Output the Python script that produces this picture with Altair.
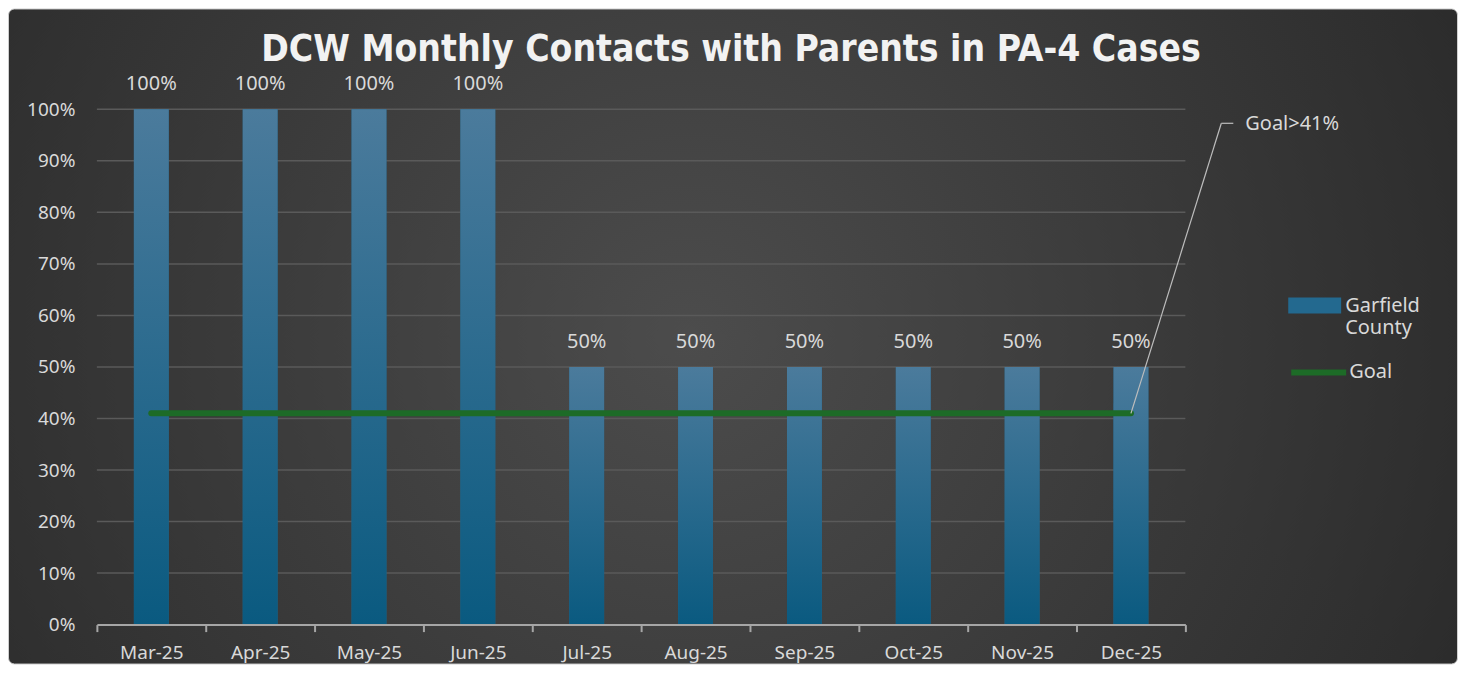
import altair as alt
import pandas as pd

months = ["Mar-25", "Apr-25", "May-25", "Jun-25", "Jul-25",
          "Aug-25", "Sep-25", "Oct-25", "Nov-25", "Dec-25"]
garfield = [1.00, 1.00, 1.00, 1.00, 0.50, 0.50, 0.50, 0.50, 0.50, 0.50]
goal = [0.41, 0.41, 0.41, 0.41, 0.41, 0.41, 0.41, 0.41, 0.41, 0.41]
goal_note = "Goal>41%"
title_text = "DCW Monthly Contacts with Parents in PA-4 Cases"
y_ticks = [0, 0.1, 0.2, 0.3, 0.4, 0.5, 0.6, 0.7, 0.8, 0.9, 1.0]

df = pd.DataFrame({"month": months, "value": garfield, "goal": goal,
                   "series": "Garfield County", "gseries": "Goal"})
note_df = pd.DataFrame({"month": [months[-1]], "goal": [goal[-1]], "label": [goal_note]})
grid_df = pd.DataFrame({"tick": y_ticks[1:]})
title_df = pd.DataFrame({"t": [title_text]})

W, H = 1090, 516
PL, PT, PR, PB = 89, 101, 273, 40
FONT = "Noto Sans"
LBL = "#d9d9d9"

x = alt.X("month:N", sort=months, title=None,
          scale=alt.Scale(paddingInner=0, paddingOuter=0),
          axis=alt.Axis(labelAngle=0, labelFont=FONT, labelFontSize=19, labelColor=LBL,
                        labelPadding=12, domainColor="#a6a6a6", domainWidth=2,
                        tickColor="#a6a6a6", tickWidth=2, tickSize=7, tickBand="extent",
                        grid=False, zindex=1))
y = alt.Y("value:Q", title=None,
          scale=alt.Scale(domain=[0, 1], nice=False),
          axis=alt.Axis(format=".0%", values=y_ticks, labelFont=FONT, labelFontSize=19,
                        labelColor=LBL, labelPadding=22, domain=False, ticks=False,
                        grid=False, zindex=1))

bg = alt.Chart(pd.DataFrame({"a": [0]})).mark_rect(
    cornerRadius=6,
    fill=alt.RadialGradient(gradient="radial", x1=0.47, y1=0.5, r1=0, x2=0.47, y2=0.5, r2=0.75,
                            stops=[alt.GradientStop(offset=0, color="#4c4c4c"),
                                   alt.GradientStop(offset=1, color="#222222")]),
    stroke="#d0d0d0", strokeWidth=1,
).encode(x=alt.value(-PL + 0.5), x2=alt.value(W + PR - 0.5),
         y=alt.value(-PT + 0.5), y2=alt.value(H + PB - 0.5))

grid = alt.Chart(grid_df).mark_rule(color="#5a5a5a", strokeWidth=1.5).encode(
    y=alt.Y("tick:Q", scale=alt.Scale(domain=[0, 1], nice=False)),
    x=alt.value(0), x2=alt.value(W))

bar_gradient = alt.LinearGradient(
    gradient="linear", x1=0, y1=0, x2=0, y2=1,
    stops=[alt.GradientStop(offset=0, color="#4b7b9c"),
           alt.GradientStop(offset=1, color="#0a5a80")])

BW = alt.RelativeBandSize(band=0.32)

bars_legend = alt.Chart(df).mark_bar(width=BW).encode(
    x=x, y=y,
    color=alt.Color("series:N", title=None,
                    scale=alt.Scale(domain=["Garfield County"], range=["#23698f"]),
                    legend=alt.Legend(orient="none", legendX=1193, legendY=170,
                                      symbolType="M-1,-0.3H1V0.3H-1Z", symbolSize=2809,
                                      symbolOpacity=1, symbolStrokeWidth=0,
                                      labelFont=FONT, labelFontSize=20, labelColor=LBL,
                                      labelOffset=4, labelLimit=200,
                                      labelExpr="datum.label == 'Garfield County' ? ['Garfield', 'County'] : datum.label"))
)
bars = alt.Chart(df).mark_bar(fill=bar_gradient, width=BW).encode(x=x, y=y)

labels = alt.Chart(df).mark_text(dy=-25, font=FONT, fontSize=20, color=LBL, baseline="middle").encode(
    x=x, y=y, text=alt.Text("value:Q", format=".0%"))

line = alt.Chart(df).mark_line(strokeWidth=6, strokeCap="round").encode(
    x=x, y=alt.Y("goal:Q"),
    stroke=alt.Stroke("gseries:N", title=None,
                      scale=alt.Scale(domain=["Goal"], range=["#1d6b27"]),
                      legend=alt.Legend(orient="none", legendX=1193, legendY=233,
                                        symbolType="stroke", symbolSize=3025,
                                        symbolStrokeWidth=6, symbolOpacity=1,
                                        labelFont=FONT, labelFontSize=20, labelColor=LBL,
                                        labelOffset=0))
)

leader = alt.Chart(note_df).mark_rule(color="#bdbdbd", strokeWidth=1.2).encode(
    x=alt.X("month:N", sort=months), y=alt.Y("goal:Q"),
    x2=alt.value(1126), y2=alt.value(14))
leader2 = alt.Chart(note_df).mark_rule(color="#bdbdbd", strokeWidth=1.2).encode(
    x=alt.value(1126), x2=alt.value(1138), y=alt.value(14))
note = alt.Chart(note_df).mark_text(align="left", baseline="middle", font=FONT, fontSize=20,
                                    color=LBL).encode(
    x=alt.value(1150), y=alt.value(15), text="label:N")

title = alt.Chart(title_df).mark_text(align="center", baseline="middle",
                                      font="DejaVu Sans Condensed, DejaVu Sans",
                                      fontSize=37, fontWeight="bold", color="#f2f2f2").encode(
    x=alt.value(W / 2 + 90), y=alt.value(-59), text="t:N")

chart = alt.layer(bg, grid, bars_legend, bars, line, labels, leader, leader2, note, title).resolve_scale(
    color="independent", stroke="independent"
).properties(
    width=W, height=H,
    autosize=alt.AutoSizeParams(type="none"),
    padding={"left": PL, "top": PT, "right": PR, "bottom": PB},
    background="white",
).configure_view(stroke=None)

chart.save("out.html", embed_options={"renderer": "svg", "actions": False})
